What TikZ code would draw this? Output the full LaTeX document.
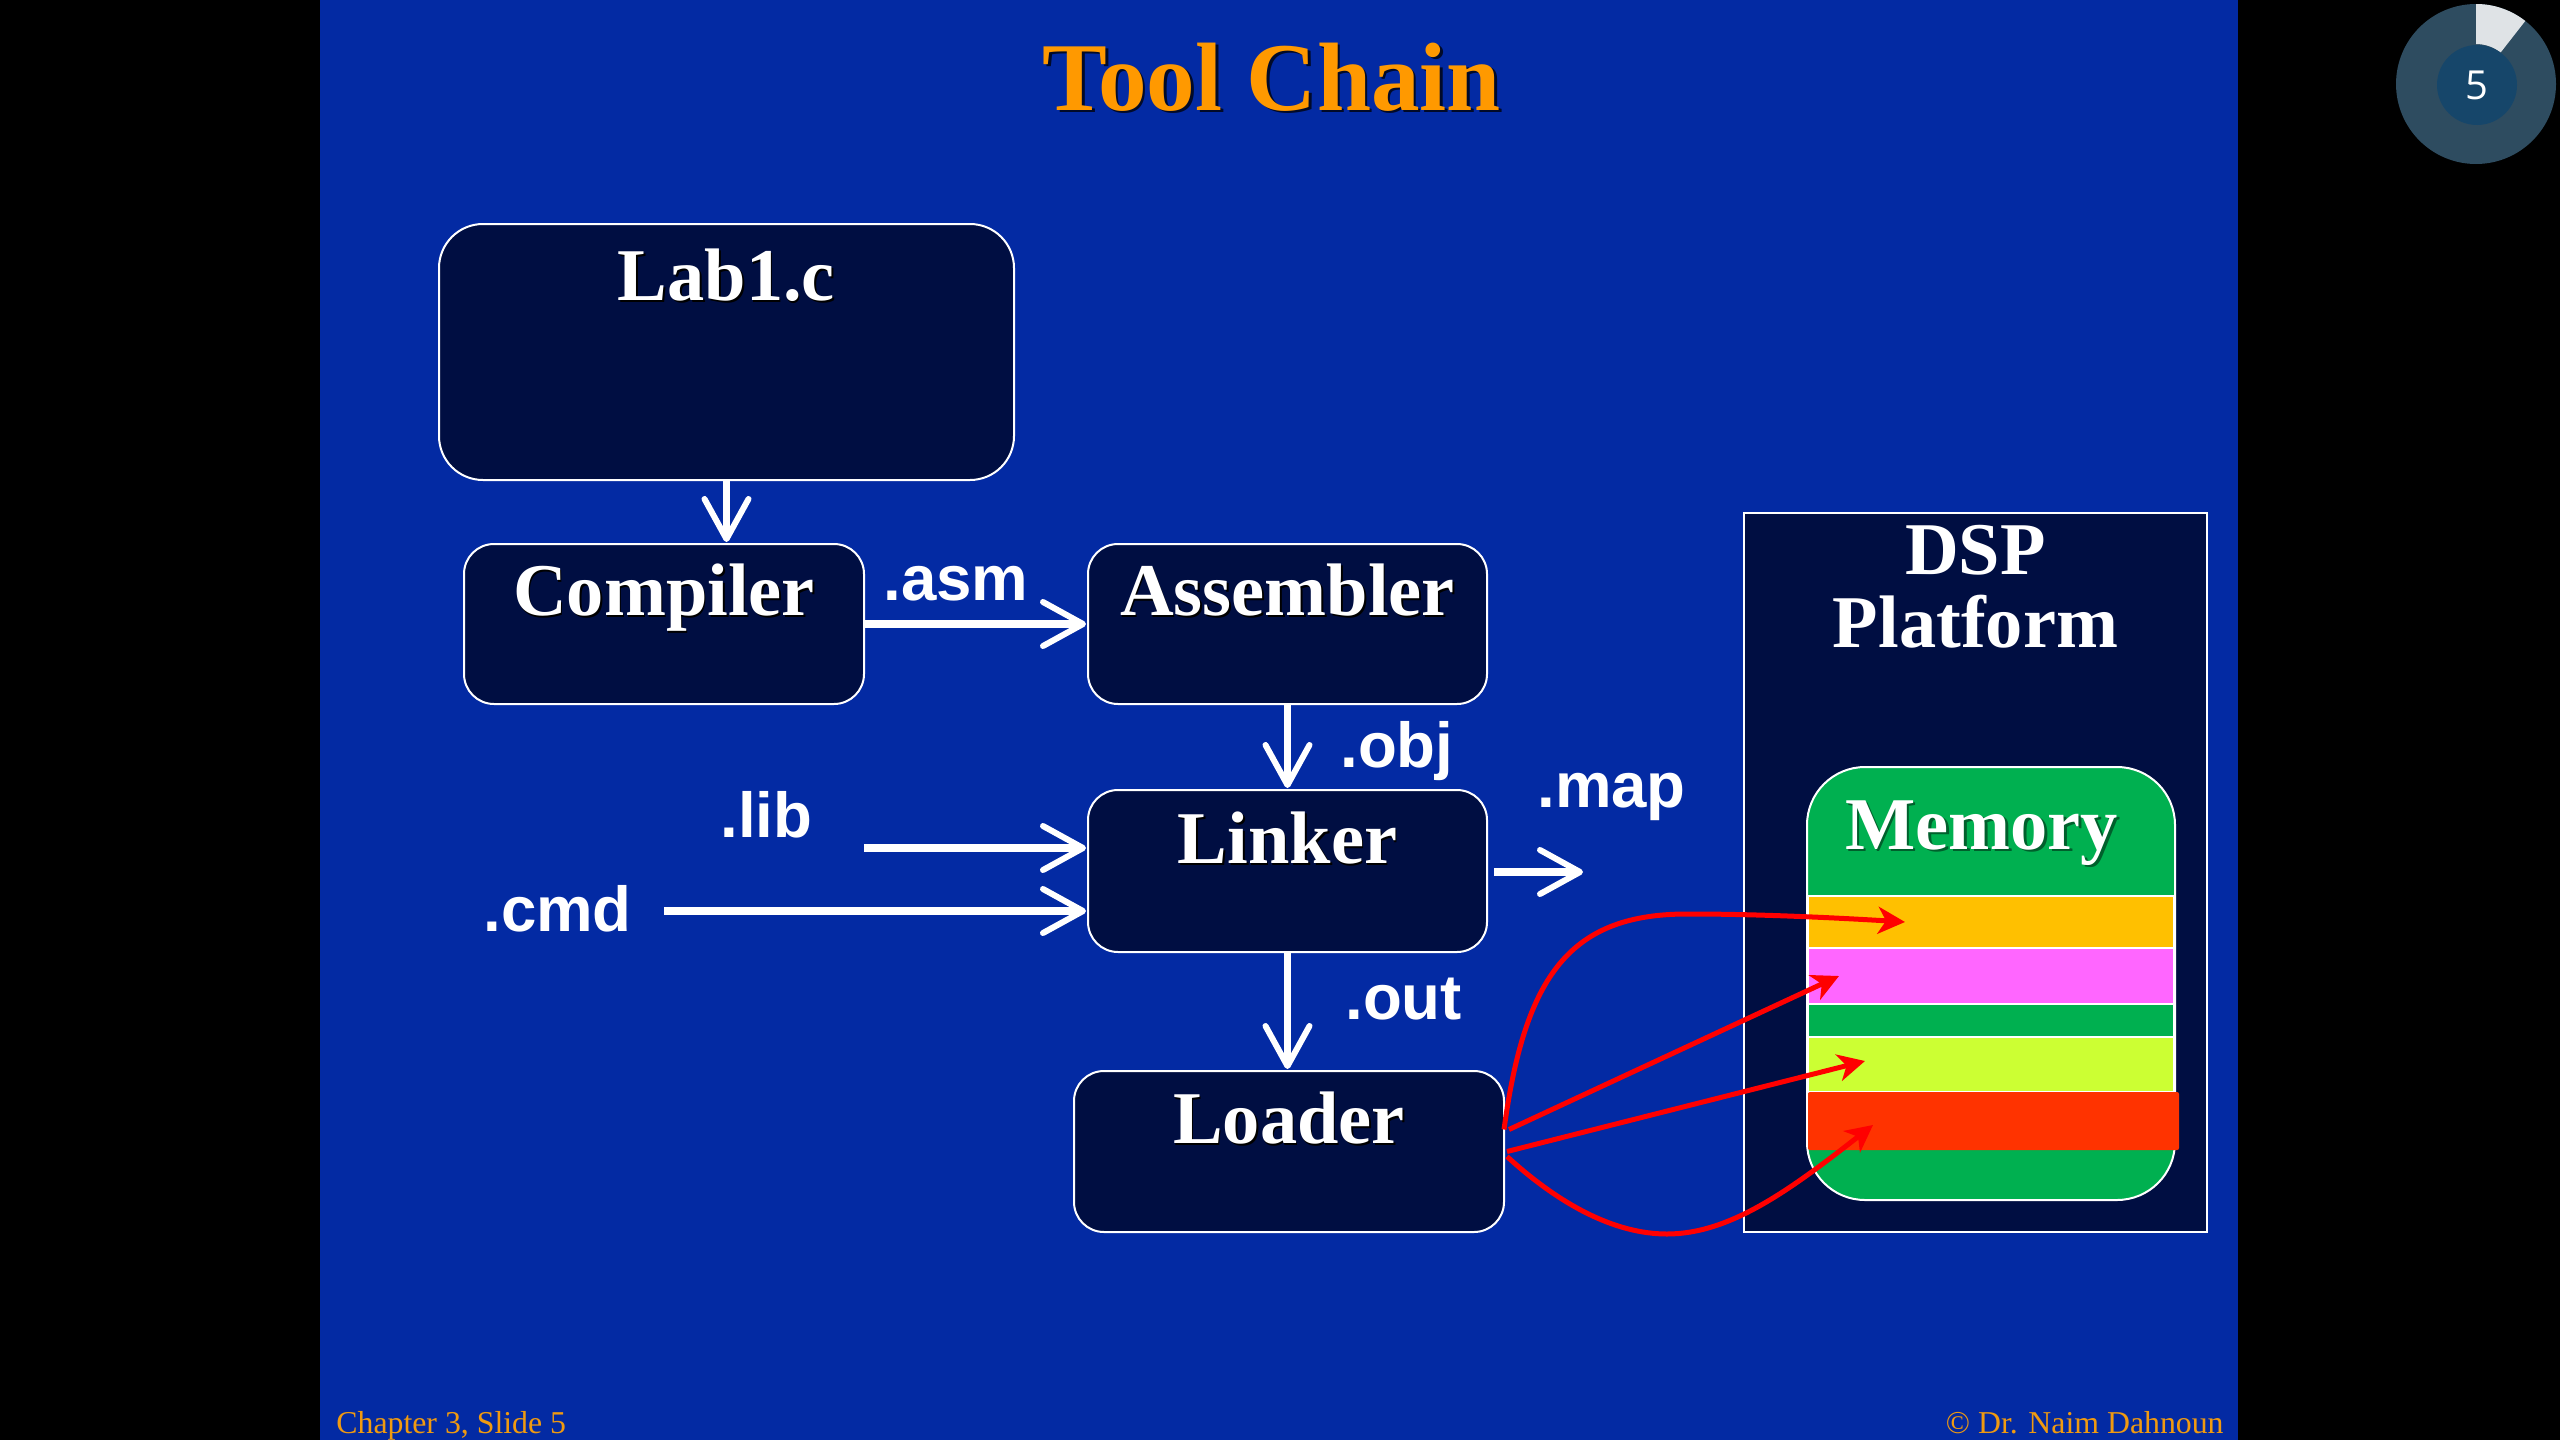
\documentclass[tikz,border=0pt]{standalone}
\usepackage{fontspec}
\setmainfont{Liberation Serif}
\setsansfont{Liberation Sans}
\newfontfamily\timerfont{Open Sans}
\usetikzlibrary{arrows.meta}
\definecolor{slidebg}{HTML}{032AA3}
\definecolor{boxbg}{HTML}{000E42}
\definecolor{titleorange}{HTML}{FF9900}
\definecolor{footorange}{HTML}{F09A10}
\definecolor{memgreen}{HTML}{00B050}
\definecolor{bandorange}{HTML}{FFC000}
\definecolor{bandpink}{HTML}{FF66FF}
\definecolor{bandlime}{HTML}{CCFF33}
\definecolor{bandred}{HTML}{FF3300}
\definecolor{timerouter}{HTML}{2E4C60}
\definecolor{timerinner}{HTML}{16466A}
\definecolor{timerpale}{HTML}{DFE3E6}
\definecolor{memshade}{HTML}{00602C}
\newcommand{\shadedtext}[3][black]{\makebox[0pt][l]{\kern#2\raisebox{-#2}{\textcolor{#1}{#3}}}#3}
\tikzset{
  procbox/.style={draw=white,line width=1pt,fill=boxbg,rounded corners=15pt,text=white,
    font=\bfseries\fontsize{37.2}{44}\selectfont,inner ysep=0pt,inner xsep=0pt},
  extlabel/.style={anchor=base west,inner sep=0pt,text=white,font=\sffamily\bfseries\fontsize{31.8}{36}\selectfont},
  flow/.style={draw=white,line width=3.8pt,-{Straight Barb[length=20pt,width=22pt,line width=3pt,round]},shorten >=0.5pt},
  load/.style={draw=red,line width=2.5pt,-{Stealth[length=13.5pt,width=13.5pt,inset=4pt]}},
  band/.style={draw=white,line width=1pt},
  foot/.style={inner sep=0pt,text=footorange,font=\fontsize{15.9}{20}\selectfont}
}
\begin{document}
\begin{tikzpicture}[x=0.5pt,y=-0.5pt]
\useasboundingbox (0,0) rectangle (2560,1440);
\fill[black] (0,0) rectangle (2560,1440);
\fill[slidebg] (320,0) rectangle (2238,1440);

% title
\node[anchor=base west,inner sep=0pt,text=titleorange,font=\bfseries\fontsize{48.6}{54}\selectfont] (title) at (1042,110) {\shadedtext[black!75!slidebg]{1.3pt}{Tool Chain}};

% process boxes
\node[procbox,rounded corners=22pt,minimum width=287.5pt,text height=38.2pt,text depth=89.8pt] (lab) at (726.5,352) {\shadedtext{0.8pt}{Lab1.c}};
\node[procbox,minimum width=200pt,text height=35.7pt,text depth=44.3pt] (compiler) at (664,624) {\shadedtext{0.8pt}{Compiler}};
\node[procbox,minimum width=199.5pt,text height=35.7pt,text depth=44.3pt] (assembler) at (1287.5,624) {\shadedtext{0.8pt}{Assembler}};
\node[procbox,minimum width=199.5pt,text height=36.7pt,text depth=44.3pt] (linker) at (1287.5,871) {\shadedtext{0.8pt}{Linker}};
\node[procbox,minimum width=215pt,text height=36.2pt,text depth=44.3pt] (loader) at (1289,1151.5) {\shadedtext{0.8pt}{Loader}};

% DSP platform
\node[draw=white,line width=1pt,fill=boxbg,minimum width=231.5pt,minimum height=359.5pt,inner sep=0pt] (dsp) at (1975.5,872.5) {};
\node[inner sep=0pt,text=white,align=center,font=\bfseries\fontsize{37.2}{36.5}\selectfont] (dsplabel) at (1975.5,586.5) {DSP\\Platform};

% memory
\node[draw=white,line width=1pt,fill=memgreen,rounded corners=29pt,minimum width=184pt,minimum height=216.5pt,inner sep=0pt] (memory) at (1991,983.5) {};
\node[anchor=base west,inner sep=0pt,text=white,font=\bfseries\fontsize{37.2}{44}\selectfont] (memlabel) at (1845,849) {\shadedtext[memshade]{1.2pt}{Memory}};
\draw[band,fill=bandorange] (1808,896) rectangle (2174,948);
\draw[band,fill=bandpink] (1808,948) rectangle (2174,1004);
\draw[band,fill=memgreen] (1808,1004) rectangle (2174,1037);
\draw[band,fill=bandlime] (1808,1037) rectangle (2174,1092);
\fill[bandred,rounded corners=1pt] (1808,1092) rectangle (2179,1150);

% flow arrows
\coordinate (libstart) at (864,848);
\coordinate (cmdstart) at (664,911);
\coordinate (mapstart) at (1494,872);
\coordinate (mapend) at (1584,872);
\draw[flow] (lab.south) -- (lab.south |- compiler.north);
\draw[flow] (compiler.east) -- (assembler.west);
\draw[flow] (assembler.south) -- (linker.north);
\draw[flow] (linker.south) -- (linker.south |- loader.north);
\draw[flow] (libstart) -- (libstart -| linker.west);
\draw[flow] (cmdstart) -- (cmdstart -| linker.west);
\draw[flow] (mapstart) -- (mapend);

% labels
\node[extlabel] (asm) at (883,600) {.asm};
\node[extlabel] (obj) at (1340,767) {.obj};
\node[extlabel] (map) at (1537,807) {.map};
\node[extlabel] (out) at (1345,1019) {.out};
\node[extlabel] (libl) at (720,837) {.lib};
\node[extlabel] (cmd) at (483,931.5) {.cmd};

% loading arrows
\coordinate (tiporange) at (1905,922);
\coordinate (tippink) at (1839,976);
\coordinate (tiplime) at (1865,1061);
\coordinate (tipred) at (1873,1125);
\draw[load] ([xshift=-0.5pt,yshift=11pt]loader.east) .. controls (1525,975) and (1570,913) .. (1690,914) .. controls (1760,914) and (1840,918) .. (tiporange);
\draw[load] ([xshift=2pt,yshift=11pt]loader.east) -- (tippink);
\draw[load] ([xshift=1pt]loader.east) -- (tiplime);
\draw[load] ([xshift=1pt,yshift=-2.5pt]loader.east) .. controls (1560,1205) and (1615,1234) .. (1667,1234) .. controls (1730,1234) and (1790,1190) .. (tipred);

% footer
\node[foot,anchor=base west] (footl) at (336,1433) {Chapter 3, Slide 5};
\node[foot,anchor=base east] (footr) at (2224,1433) {© Dr. Naim Dahnoun};

% timer
\begin{scope}[shift={(2476,84)},x=1pt,y=1pt]
\fill[timerouter] (0,0) circle[radius=40pt];
\fill[timerpale] (90:40pt) arc[start angle=90,end angle=52,radius=40pt] -- (52:20pt) arc[start angle=52,end angle=90,radius=20pt] -- cycle;
\node[circle,fill=timerinner,minimum size=40pt,inner sep=0pt,text=white,font=\timerfont\fontsize{20}{24}\selectfont] (timer) at (0.5pt,-0.5pt) {5};
\end{scope}
\end{tikzpicture}
\end{document}
